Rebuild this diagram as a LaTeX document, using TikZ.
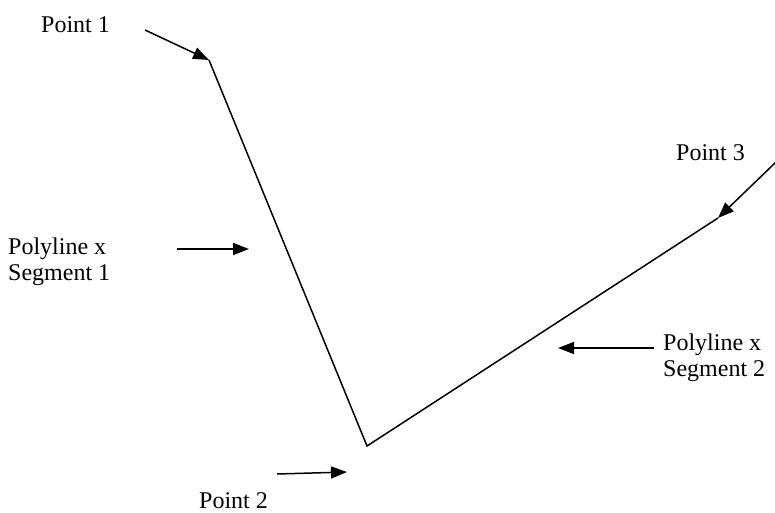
\documentclass[tikz,border=0pt]{standalone}
\usepackage{fontspec}
\setmainfont{Liberation Serif}
\usetikzlibrary{arrows.meta}
\begin{document}
\begin{tikzpicture}[x=1pt,y=-1pt,
  lbl/.style={inner sep=0pt,font=\fontsize{24}{26.5}\selectfont},
  seg/.style={line width=1.5pt,line join=miter},
  ptr/.style={line width=1.5pt,-{Triangle[length=16pt,width=12pt]}}]
\useasboundingbox (0,0) rectangle (775,512);
% polyline vertices
\coordinate (p1) at (209,60);
\coordinate (p2) at (367,446);
\coordinate (p3) at (718,218);
\draw[seg] (p1) -- (p2) -- (p3);
% labels
\node[lbl,anchor=base west] (t1) at (41,32) {Point 1};
\node[lbl,anchor=base west] (t2) at (199,508) {Point 2};
\node[lbl,anchor=base west] (t3) at (676,160) {Point 3};
\node[lbl,anchor=north west,align=left] (s1) at (8,237.6) {Polyline x\\Segment 1};
\node[lbl,anchor=north west,align=left] (s2) at (663,333.6) {Polyline x\\Segment 2};
% pointer tails
\coordinate (a1) at (145,30);
\coordinate (a2) at (277,474);
\coordinate (a3) at (776,162);
\coordinate (b1) at (177,249);
\coordinate (b1t) at (249,249);
\coordinate (b2) at (654,348);
\coordinate (b2t) at (558,348);
\coordinate (a2t) at (347,472);
\draw[ptr] (a1) -- (p1);
\draw[ptr] (a3) -- (p3);
\draw[ptr] (a2) -- (a2t);
\draw[ptr] (b1) -- (b1t);
\draw[ptr] (b2) -- (b2t);
\end{tikzpicture}
\end{document}
